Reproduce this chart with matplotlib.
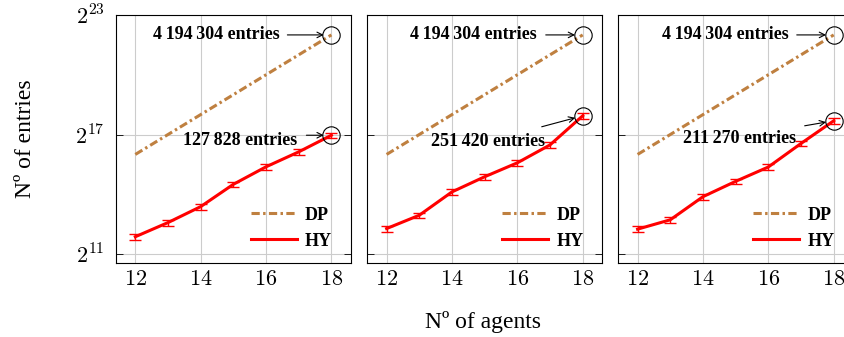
import matplotlib
matplotlib.use("Agg")
import matplotlib.pyplot as plt
from matplotlib.lines import Line2D

plt.rcParams["font.family"] = ["Liberation Serif", "DejaVu Serif"]
plt.rcParams["mathtext.fontset"] = "cm"

agents = [12, 13, 14, 15, 16, 17, 18]

# DP grows as 2^(n+4)
dp_entries = [65536, 131072, 262144, 524288, 1048576, 2097152, 4194304]

# HY means and error (std) per panel
hy_entries = [
    [3740, 6120, 10660, 23170, 42620, 71650, 127828],
    [4970, 7900, 17800, 30150, 48950, 91300, 251420],
    [4870, 6740, 15070, 25700, 42330, 95990, 211270],
]
hy_err = [
    [370, 610, 1060, 2300, 4200, 7100, 12700],
    [490, 780, 1770, 3000, 4900, 9100, 25000],
    [480, 670, 1500, 2550, 4200, 9600, 21000],
]

dp_label = "4\u2009194\u2009304 entries"
hy_labels = ["127\u2009828 entries", "251\u2009420 entries", "211\u2009270 entries"]

# annotation placement, offset points from the last point
dp_text_off = [(-37.4, 0), (-33.1, 0), (-32.4, 0)]
dp_arrow_off = [(-31.7, 0), (-26.6, 0), (-26.6, 0)]
hy_text_off = [(-24.7, -4), (-27.4, -18.7), (-27.4, -13)]
hy_arrow_off = [(-18, 0), (-29.5, -7.9), (-20.9, -3.6)]

dp_color = "#bf8040"
hy_color = "#ff0000"
dp_style = (0, (2.7, 1.1, 0.8, 1.1))

fig = plt.figure(figsize=(8.45, 3.37), dpi=100)
lefts = [115.7 / 845, 367 / 845, 618 / 845]
width = 235.3 / 845
bottom = 74 / 337
height = 248 / 337

for i in range(3):
    ax = fig.add_axes([lefts[i], bottom, width, height])
    ax.set_yscale("log", base=2)
    ax.plot(agents, dp_entries, color=dp_color, lw=2.2, ls=dp_style, zorder=3)
    ax.errorbar(agents, hy_entries[i], yerr=hy_err[i], color=hy_color, lw=2.2,
                elinewidth=1.0, capsize=4, capthick=1.0, zorder=4)
    ax.set_xlim(11.4, 18.6)
    ax.set_ylim(2 ** 10.55, 2 ** 23)
    ax.set_xticks([12, 14, 16, 18])
    ax.set_xticklabels(["$%d$" % v for v in [12, 14, 16, 18]])
    ax.set_yticks([2 ** 11, 2 ** 17, 2 ** 23])
    ax.set_yticks([], minor=True)
    if i == 0:
        ax.set_yticklabels(["$2^{11}$", "$2^{17}$", "$2^{23}$"])
        ax.set_ylabel("N\u00ba of entries", fontsize=17, labelpad=28)
    else:
        ax.set_yticklabels([])
    ax.tick_params(axis="both", labelsize=16, direction="in", length=5,
                   right=True, top=False, width=0.6)
    ax.tick_params(axis="x", length=0, pad=6)
    ax.tick_params(axis="y", pad=8)
    ax.grid(True, color="#cccccc", lw=0.8)
    ax.set_axisbelow(True)
    for s in ax.spines.values():
        s.set_linewidth(0.8)

    # circles around the last points
    for val in [dp_entries[-1], hy_entries[i][-1]]:
        ax.plot([agents[-1]], [val], marker="o", ms=12.5, mfc="none", mec="black",
                mew=0.8, zorder=5, clip_on=False)

    for val, label, toff, aoff in [
        (dp_entries[-1], dp_label, dp_text_off[i], dp_arrow_off[i]),
        (hy_entries[i][-1], hy_labels[i], hy_text_off[i], hy_arrow_off[i]),
    ]:
        ax.annotate(label, xy=(agents[-1], val), xytext=toff,
                    textcoords="offset points", ha="right", va="center",
                    fontsize=13, fontweight="bold", zorder=6)
        ax.annotate("", xy=(agents[-1], val), xytext=aoff,
                    textcoords="offset points",
                    arrowprops=dict(arrowstyle="->", color="black", lw=0.8,
                                    shrinkA=0, shrinkB=5.5), zorder=6)

    handles = [Line2D([], [], color=dp_color, lw=2.2, ls=dp_style),
               Line2D([], [], color=hy_color, lw=2.2)]
    ax.legend(handles, ["DP", "HY"], loc="lower right", frameon=False,
              prop=dict(size=13, weight="bold"), handlelength=2.55,
              handletextpad=0.45, borderaxespad=0.0, labelspacing=0.5,
              bbox_to_anchor=(0.95, 0.025))

fig.text(483 / 845, 1 - 322 / 337, "N\u00ba of agents", ha="center", va="center",
         fontsize=17)

fig.savefig("out.png", dpi=100)
